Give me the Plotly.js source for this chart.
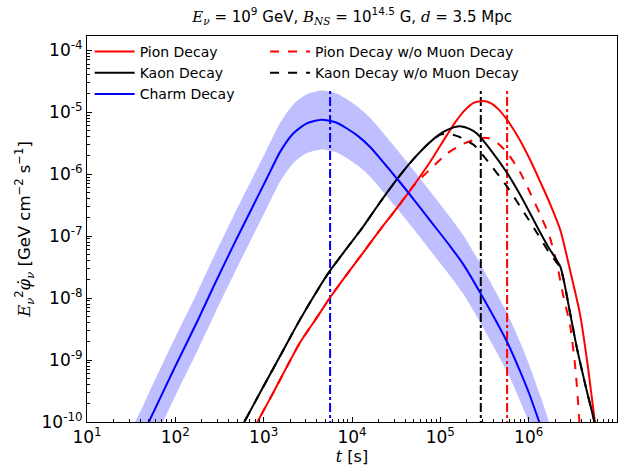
<!DOCTYPE html>
<html>
<head>
<meta charset="utf-8">
<script src="https://cdn.plot.ly/plotly-3.0.1.min.js"></script>
<style>html,body{margin:0;padding:0;background:#fff;}#chart{width:626px;height:468px;}</style>
</head>
<body>
<div id="chart"></div>
<script>
// ---- Charm decay (centre line and uncertainty band) ----
var charmT     = [30.2, 42.7, 50.1, 100, 178, 282, 454, 701, 1084, 1535, 2173, 3076, 4550, 6730, 11320, 16030, 32210, 50120, 76740, 128800, 182800, 281800, 575400, 794300, 1.0e6, 1.318e6, 1.514e6, 1.82e6];
var charmFlux  = [2.19e-11, 6.03e-11, 1.0e-10, 7.94e-10, 4.27e-9, 1.738e-8, 7.08e-8, 2.455e-7, 8.51e-7, 2.29e-6, 4.57e-6, 6.61e-6, 7.59e-6, 6.76e-6, 4.27e-6, 2.75e-6, 8.51e-7, 3.89e-7, 1.778e-7, 6.92e-8, 3.47e-8, 1.23e-8, 1.905e-9, 6.76e-10, 3.02e-10, 1.0e-10, 5.62e-11, 2.51e-11];
var charmUpper = [6.46e-11, 1.778e-10, 2.95e-10, 2.34e-9, 1.259e-8, 5.13e-8, 2.09e-7, 7.24e-7, 2.51e-6, 6.76e-6, 1.349e-5, 1.95e-5, 2.24e-5, 1.995e-5, 1.259e-5, 8.13e-6, 2.51e-6, 1.148e-6, 5.25e-7, 2.04e-7, 1.023e-7, 3.63e-8, 5.62e-9, 2.0e-9, 8.91e-10, 2.95e-10, 1.66e-10, 7.41e-11];
var charmLower = [7.24e-12, 2.0e-11, 3.31e-11, 2.63e-10, 1.413e-9, 5.75e-9, 2.34e-8, 8.13e-8, 2.82e-7, 7.59e-7, 1.514e-6, 2.19e-6, 2.51e-6, 2.24e-6, 1.413e-6, 9.12e-7, 2.82e-7, 1.288e-7, 5.89e-8, 2.29e-8, 1.148e-8, 4.07e-9, 6.31e-10, 2.24e-10, 1.0e-10, 3.31e-11, 1.862e-11, 8.32e-12];

// ---- Kaon decay ----
var kaonT    = [501, 603, 1000, 1585, 2455, 4365, 5623, 8913, 13490, 19950, 32360, 50120, 76740, 100000, 118600, 144500, 173800, 213800, 257000, 363100, 575400, 851100, 1.259e6, 1.66e6, 2.291e6, 2.951e6, 3.508e6, 4.467e6, 5.559e6, 6.026e6];
var kaonFlux = [6.03e-11, 1.0e-10, 3.80e-10, 1.259e-9, 3.98e-9, 1.585e-8, 2.75e-8, 6.61e-8, 1.445e-7, 3.24e-7, 8.32e-7, 1.778e-6, 3.31e-6, 4.47e-6, 5.13e-6, 5.75e-6, 5.89e-6, 5.37e-6, 4.57e-6, 2.57e-6, 1.023e-6, 3.98e-7, 1.38e-7, 6.76e-8, 3.16e-8, 5.62e-9, 1.585e-9, 3.55e-10, 1.0e-10, 5.62e-11];
var kaonNoMuT    = [501, 603, 1000, 1585, 2455, 4365, 5623, 8913, 13490, 19950, 32360, 50120, 76740, 100000, 125900, 158500, 239900, 331100, 575400, 851100, 1.259e6, 1.66e6, 2.291e6, 2.951e6, 3.508e6, 4.467e6, 5.559e6, 6.026e6];
var kaonNoMuFlux = [6.03e-11, 1.0e-10, 3.80e-10, 1.259e-9, 3.98e-9, 1.585e-8, 2.75e-8, 6.61e-8, 1.445e-7, 3.24e-7, 8.32e-7, 1.778e-6, 3.31e-6, 4.37e-6, 4.47e-6, 4.07e-6, 2.95e-6, 1.738e-6, 6.17e-7, 2.63e-7, 1.096e-7, 5.75e-8, 3.02e-8, 5.62e-9, 1.585e-9, 3.55e-10, 1.0e-10, 5.62e-11];

// ---- Pion decay ----
var pionT    = [759, 851, 1259, 2570, 3981, 5649, 8913, 13490, 19950, 32210, 49550, 76740, 118600, 147900, 182800, 238200, 309000, 380200, 467700, 575400, 794300, 1.047e6, 1.349e6, 1.738e6, 2.291e6, 2.951e6, 3.802e6, 4.677e6, 5.623e6, 6.166e6];
var pionFlux = [7.08e-11, 1.0e-10, 2.82e-10, 1.905e-9, 4.79e-9, 1.023e-8, 2.51e-8, 5.5e-8, 1.175e-7, 2.82e-7, 6.46e-7, 1.585e-6, 4.27e-6, 6.92e-6, 1.023e-5, 1.413e-5, 1.514e-5, 1.38e-5, 1.072e-5, 7.41e-6, 3.55e-6, 1.66e-6, 7.59e-7, 3.39e-7, 1.23e-7, 2.75e-8, 5.62e-9, 7.94e-10, 1.0e-10, 3.98e-11];
var pionNoMuT    = [759, 851, 1259, 2570, 3981, 5649, 8913, 13490, 19950, 32210, 49550, 58880, 79430, 118600, 182800, 281800, 354800, 446700, 575400, 794300, 1.047e6, 1.349e6, 1.738e6, 2.089e6, 2.455e6, 2.951e6, 3.388e6, 3.715e6, 3.89e6];
var pionNoMuFlux = [7.08e-11, 1.0e-10, 2.82e-10, 1.905e-9, 4.79e-9, 1.023e-8, 2.51e-8, 5.5e-8, 1.175e-7, 2.82e-7, 6.46e-7, 8.32e-7, 1.259e-6, 2.14e-6, 3.09e-6, 3.8e-6, 3.8e-6, 3.16e-6, 2.19e-6, 1.096e-6, 4.9e-7, 2.24e-7, 9.55e-8, 3.55e-8, 1.122e-8, 3.55e-9, 7.08e-10, 1.259e-10, 3.98e-11];

// ---- Characteristic times (vertical dash-dot markers) ----
var tCharm = 5650, tKaon = 2.87e5, tPion = 5.7e5;
var markerSpan = [1.0e-11, 2.2e-5];

// ---- Axis ticks ----
var xTickVals = [1e1, 1e2, 1e3, 1e4, 1e5, 1e6, 1e7];
var xTickText = ['10<sup>1</sup>', '10<sup>2</sup>', '10<sup>3</sup>', '10<sup>4</sup>', '10<sup>5</sup>', '10<sup>6</sup>', '10<sup>7</sup>'];
var yTickVals = [1e-10, 1e-9, 1e-8, 1e-7, 1e-6, 1e-5, 1e-4];
var yTickText = ['10<sup>-10</sup>', '10<sup>-9</sup>', '10<sup>-8</sup>', '10<sup>-7</sup>', '10<sup>-6</sup>', '10<sup>-5</sup>', '10<sup>-4</sup>'];

var RED = '#ff0000', BLACK = '#000000', BLUE = '#0000ff';
var LW = 2;
var SM = 0.6;

var traces = [
  {x: charmT, y: charmLower, mode: 'lines', line: {width: 0, color: 'rgba(0,0,0,0)', shape: 'spline', smoothing: SM}, showlegend: false, hoverinfo: 'skip'},
  {x: charmT, y: charmUpper, mode: 'lines', line: {width: 0, color: 'rgba(0,0,0,0)', shape: 'spline', smoothing: SM}, fill: 'tonexty', fillcolor: 'rgba(0,0,255,0.25)', showlegend: false, hoverinfo: 'skip'},
  {x: [tCharm, tCharm], y: markerSpan, mode: 'lines', line: {color: BLUE, width: LW, dash: 'dashdot'}, showlegend: false},
  {x: [tKaon, tKaon], y: markerSpan, mode: 'lines', line: {color: BLACK, width: LW, dash: 'dashdot'}, showlegend: false},
  {x: [tPion, tPion], y: markerSpan, mode: 'lines', line: {color: RED, width: LW, dash: 'dashdot'}, showlegend: false},
  {x: pionNoMuT, y: pionNoMuFlux, mode: 'lines', name: 'Pion Decay w/o Muon Decay', legend: 'legend2', legendrank: 1, line: {color: RED, width: LW, dash: 'dash', shape: 'spline', smoothing: SM}},
  {x: kaonNoMuT, y: kaonNoMuFlux, mode: 'lines', name: 'Kaon Decay w/o Muon Decay', legend: 'legend2', legendrank: 2, line: {color: BLACK, width: LW, dash: 'dash', shape: 'spline', smoothing: SM}},
  {x: pionT, y: pionFlux, mode: 'lines', name: 'Pion Decay', legendrank: 1, line: {color: RED, width: LW, shape: 'spline', smoothing: SM}},
  {x: kaonT, y: kaonFlux, mode: 'lines', name: 'Kaon Decay', legendrank: 2, line: {color: BLACK, width: LW, shape: 'spline', smoothing: SM}},
  {x: charmT, y: charmFlux, mode: 'lines', name: 'Charm Decay', legendrank: 3, line: {color: BLUE, width: LW, shape: 'spline', smoothing: SM}}
];

var FONT = 'DejaVu Sans, sans-serif';
var M = '<span style="font-family:DejaVu Serif, serif;font-style:italic">';
var legendBase = {bgcolor: 'rgba(0,0,0,0)', borderwidth: 0, font: {family: FONT, size: 14, color: '#000'}, xanchor: 'left', yanchor: 'top', orientation: 'v', traceorder: 'normal', itemwidth: 40};

var layout = {
  width: 626, height: 468,
  margin: {l: 87, r: 9, t: 36, b: 46},
  paper_bgcolor: '#fff', plot_bgcolor: '#fff',
  font: {family: FONT, color: '#000'},
  title: {
    text: M + 'E</span><sub>' + M + 'ν</span></sub> = 10<sup>9</sup> GeV, ' + M + 'B</span><sub>' + M + 'NS</span></sub> = 10<sup>14.5</sup> G, ' + M + 'd</span> = 3.5 Mpc',
    font: {family: FONT, size: 15, color: '#000'},
    x: 0.5625, xanchor: 'center', y: 0.965, yanchor: 'middle'
  },
  xaxis: {
    type: 'log', range: [1, 7],
    tickmode: 'array', tickvals: xTickVals, ticktext: xTickText,
    ticks: 'inside', ticklen: 5, tickwidth: 1, tickcolor: '#000',
    minor: {ticks: 'inside', ticklen: 3, tickwidth: 1, tickcolor: '#000', dtick: 'D1', showgrid: false},
    showgrid: false, zeroline: false,
    showline: true, linecolor: '#000', linewidth: 1, mirror: true,
    tickfont: {family: FONT, size: 17, color: '#000'},
    title: {text: M + 't</span> [s]', font: {family: FONT, size: 16, color: '#000'}, standoff: 4}
  },
  yaxis: {
    type: 'log', range: [-10, -3.77],
    tickmode: 'array', tickvals: yTickVals, ticktext: yTickText,
    ticks: 'inside', ticklen: 5, tickwidth: 1, tickcolor: '#000',
    minor: {ticks: 'inside', ticklen: 3, tickwidth: 1, tickcolor: '#000', dtick: 'D1', showgrid: false},
    showgrid: false, zeroline: false,
    showline: true, linecolor: '#000', linewidth: 1, mirror: true,
    tickfont: {family: FONT, size: 17, color: '#000'},
    title: {text: M + 'E</span><sub>' + M + 'ν</span></sub><sup>2</sup>' + M + 'φ̇</span><sub>' + M + 'ν</span></sub> [GeV cm<sup>−2</sup> s<sup>−1</sup>]', font: {family: FONT, size: 16.5, color: '#000'}, standoff: 6}
  },
  legend: Object.assign({}, legendBase, {x: 0.005, y: 1.0}),
  legend2: Object.assign({}, legendBase, {x: 0.336, y: 1.0}),
  showlegend: true
};

Plotly.newPlot('chart', traces, layout, {displayModeBar: false, staticPlot: true});
</script>
</body>
</html>
